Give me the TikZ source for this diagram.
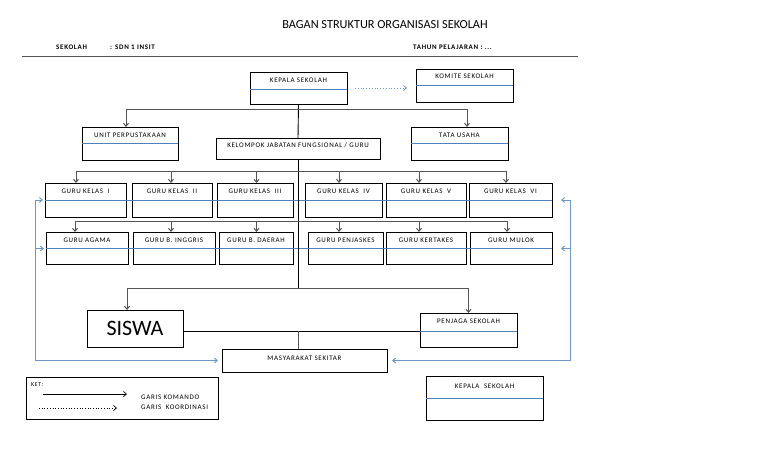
\documentclass[tikz,border=0pt]{standalone}
\usepackage{fontspec}
\setmainfont{Carlito}
\newfontfamily\lblfont[LetterSpace=10]{Carlito}
\usetikzlibrary{arrows.meta,calc}
\definecolor{dvblue}{RGB}{79,129,189}
\definecolor{arblue}{RGB}{112,150,200}
\definecolor{brgray}{RGB}{85,85,85}
\tikzset{
  bx/.style={draw=black, line width=0.9pt, inner sep=0pt, outer sep=0pt, anchor=north west},
  lbl/.style={inner sep=0pt, text height=4.6pt, text depth=0pt, font=\lblfont\fontsize{7}{8}\selectfont},
  hd/.style={inner sep=0pt, anchor=west, text height=4.8pt, text depth=0pt, font=\lblfont\bfseries\fontsize{7}{8}\selectfont},
  dv/.style={draw=dvblue, line width=0.8pt},
  cmd/.style={draw=brgray, line width=1pt, -{Straight Barb[length=3pt,width=5pt]}},
  trunk/.style={draw=black, line width=0.9pt},
  coord/.style={draw=arblue, line width=0.9pt, -{Straight Barb[length=3pt,width=5pt]}},
  koord/.style={draw=arblue, line width=0.8pt, dotted, -{Straight Barb[length=3pt,width=5pt]}},
  lgsolid/.style={draw=black, line width=0.7pt, -{Straight Barb[length=3pt,width=5pt]}},
  lgdot/.style={draw=black, line width=0.7pt, dotted, -{Straight Barb[length=3pt,width=5pt]}},
}
% name, x, y, width, height, divider offset, text
\newcommand\dbox[7]{%
  \node[bx, minimum width=#4pt, minimum height=#5pt] (#1) at (#2,#3) {};
  \node[lbl] (#1t) at ($(#1.north)+(0,#6*0.47)$) {#7};
  \draw[dv] ($(#1.north west)+(0,#6)$) -- ($(#1.north east)+(0,#6)$);
}
\begin{document}
\begin{tikzpicture}[x=1pt,y=-1pt]
\useasboundingbox (0,0) rectangle (768,466);
\fill[white] (0,0) rectangle (768,466);

% header
\node[inner sep=0pt, font=\fontsize{12.3}{14}\selectfont] (title) at (385,25) {BAGAN STRUKTUR ORGANISASI SEKOLAH};
\node[hd] (sek) at (56,47) {SEKOLAH};
\node[hd] (sdn) at (110,47) {: SDN 1 INSIT};
\node[hd] (tahun) at (413,47) {TAHUN PELAJARAN : ...};
\coordinate (hl1) at (22,56.7);
\coordinate (hl2) at (578,56.7);
\draw[draw=brgray, line width=1pt] (hl1) -- (hl2);

% top level
\dbox{kepala}{250}{72}{97}{32}{17}{KEPALA SEKOLAH}
\dbox{komite}{416}{69}{97}{33}{16}{KOMITE SEKOLAH}
\dbox{unit}{82}{127}{96}{33}{16.5}{UNIT PERPUSTAKAAN}
\dbox{tata}{411}{127}{97}{33}{16.5}{TATA USAHA}
\node[bx, minimum width=164pt, minimum height=21.5pt] (kelompok) at (216,138) {};
\node[lbl] (kelompokt) at ($(kelompok.north)+(0,7)$) {KELOMPOK JABATAN FUNGSIONAL / GURU};

% row 1
\dbox{gk1}{45}{183}{81}{34}{17}{GURU KELAS\ \ I}
\dbox{gk2}{132}{183}{80}{34}{17}{GURU KELAS\ \ II}
\dbox{gk3}{217}{183}{76}{34}{17}{GURU KELAS\ \ III}
\dbox{gk4}{305}{183}{77}{34}{17}{GURU KELAS\ \ IV}
\dbox{gk5}{386}{183}{80}{34}{17}{GURU KELAS\ \ V}
\dbox{gk6}{469}{183}{83}{34}{17}{GURU KELAS\ \ VI}
% row 2
\dbox{ga}{46}{232}{82}{32}{16.5}{GURU AGAMA}
\dbox{gbi}{133}{232}{82}{32}{16.5}{GURU B. INGGRIS}
\dbox{gbd}{219}{232}{74}{32}{16.5}{GURU B. DAERAH}
\dbox{gp}{308}{232}{75}{32}{16.5}{GURU PENJASKES}
\dbox{gkt}{386}{232}{80}{32}{16.5}{GURU KERTAKES}
\dbox{gm}{470}{232}{82}{32}{16.5}{GURU MULOK}

% continuous blue dividers
\draw[dv] ($(gk1.north west)+(0,17)$) -- ($(gk6.north east)+(0,17)$);
\draw[dv] ($(ga.north west)+(0,16.5)$) -- ($(gm.north east)+(0,16.5)$);

% bottom
\node[bx, minimum width=96pt, minimum height=37pt] (siswa) at (87,310) {};
\node[inner sep=0pt, font=\fontsize{22}{24}\selectfont] (siswat) at (siswa.center) {SISWA};
\dbox{penjaga}{420}{313}{97}{34}{18}{PENJAGA SEKOLAH}
\node[bx, minimum width=165pt, minimum height=23pt] (masy) at (222,349) {};
\node[lbl] (masyt) at ($(masy.north)+(0,9)$) {MASYARAKAT SEKITAR};
\dbox{kepala2}{426}{376}{117}{44}{22}{KEPALA\ \ SEKOLAH}

% legend
\node[bx, minimum width=192pt, minimum height=42.5pt] (ket) at (26,377) {};
\node[lbl, anchor=west, font=\lblfont\fontsize{6}{7}\selectfont] (kett) at (31,384) {KET:};
\coordinate (ka1) at (43,394);
\coordinate (ka2) at (127,394);
\coordinate (kb1) at (39,408);
\coordinate (kb2) at (117,408);
\draw[lgsolid] (ka1) -- (ka2);
\draw[lgdot] (kb1) -- (kb2);
\node[lbl, anchor=west] (kom) at (141,397) {GARIS KOMANDO};
\node[lbl, anchor=west] (koor) at (141,407.5) {GARIS\ \ KOORDINASI};

% command lines
\draw[trunk] (kepala.south) -- (kelompok.north);
\coordinate (b1) at ($(kepala.south)+(0,5)$);
\draw[cmd] (b1) -| ($(unit.north)+(-4,0)$);
\draw[cmd] (b1) -| ($(tata.north)+(7.5,0)$);
\coordinate (r3) at (298,288);
\draw[trunk] (kelompok.south) -- (r3);
\coordinate (r1) at (298,171);
\coordinate (r2) at (298,221);
\draw[cmd] (r1) -| ($(gk1.north)+(-9.5,0)$);
\draw[cmd] (r1) -| ($(gk2.north)+(-1,0)$);
\draw[cmd] (r1) -| ($(gk3.north)+(1.5,0)$);
\draw[cmd] (r1) -| ($(gk4.north)+(-4.5,0)$);
\draw[cmd] (r1) -| ($(gk5.north)+(-7,0)$);
\draw[cmd] (r1) -| ($(gk6.north)+(-4.5,0)$);
\draw[cmd] (r2) -| ($(ga.north)+(-12,0)$);
\draw[cmd] (r2) -| ($(gbi.north)+(-3,0)$);
\draw[cmd] (r2) -| ($(gbd.north)+(0.5,0)$);
\draw[cmd] (r2) -| ($(gp.north)+(-6.5,0)$);
\draw[cmd] (r2) -| ($(gkt.north)+(-7,0)$);
\draw[cmd] (r2) -| ($(gm.north)+(-4,0)$);
\draw[cmd] (r3) -| ($(siswa.north)+(-8,0)$);
\draw[cmd] (r3) -| (penjaga.north);
\coordinate (sp) at (298,331);
\draw[trunk] (siswa.east |- sp) -- (penjaga.west |- sp);
\draw[draw=brgray, line width=0.8pt] (sp) -- (masy.north -| sp);

% coordination lines
\draw[koord, shorten <=8pt, shorten >=9pt] (kepala.east) -- (kepala.east -| komite.west);
\coordinate (bl) at (35,360.5);
\coordinate (brc) at (570,360.5);
\draw[coord, shorten >=2pt] (bl) |- ($(gk1.north west)+(0,17)$);
\draw[coord, shorten >=2pt] (bl) |- ($(ga.north west)+(0,16.5)$);
\draw[coord, shorten >=4pt] (bl) -- (masy.west);
\draw[coord, shorten >=9pt] (brc) |- ($(gk6.north east)+(0,17)$);
\draw[coord, shorten >=9pt] (brc) |- ($(gm.north east)+(0,16.5)$);
\draw[coord, shorten >=5pt] (brc) -- (masy.east);
\end{tikzpicture}
\end{document}
